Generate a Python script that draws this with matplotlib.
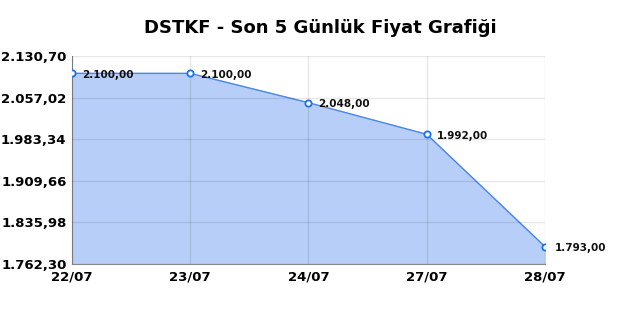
import numpy as np
import matplotlib.pyplot as plt

# veri
dates = ["22/07", "23/07", "24/07", "27/07", "28/07"]
prices = [2100.00, 2100.00, 2048.00, 1992.00, 1793.00]
y_ticks = [1762.30, 1835.98, 1909.66, 1983.34, 2057.02, 2130.70]


def tr_format(v):
    s = f"{v:,.2f}"
    return s.replace(",", "X").replace(".", ",").replace("X", ".")


fig = plt.figure(figsize=(6.4, 3.2), dpi=100)
ax = fig.add_axes([0.1125, 0.175, 0.739, 0.65])

x = np.arange(len(dates))
ax.fill_between(x, prices, y_ticks[0], color="#b7cff8", zorder=1)
ax.plot(x, prices, color="#4a86e8", linewidth=1, zorder=2)
ax.plot(x, prices, linestyle="none", marker="o", markersize=4.5,
        markerfacecolor="white", markeredgecolor="#1a73e8", markeredgewidth=1.3, zorder=3)

for xi, p in zip(x, prices):
    ax.annotate(tr_format(p), (xi, p), xytext=(7, -1), textcoords="offset points",
                fontsize=7.5, fontweight="bold", va="center", ha="left", color="#111111")

ax.set_xlim(0, len(dates) - 1)
ax.set_ylim(y_ticks[0], y_ticks[-1])
ax.set_xticks(x)
ax.set_xticklabels(dates, fontsize=9.5, fontweight="bold")
ax.set_yticks(y_ticks)
ax.set_yticklabels([tr_format(v) for v in y_ticks], fontsize=9.5, fontweight="bold")
ax.tick_params(length=0)
ax.tick_params(axis="y", pad=4)
ax.tick_params(axis="x", pad=5)

ax.grid(True, color="black", alpha=0.09, linewidth=1, zorder=1.5)
ax.set_axisbelow(False)
for s in ["top", "right"]:
    ax.spines[s].set_visible(False)
ax.spines["left"].set_color("#888888")
ax.spines["bottom"].set_color("#888888")

fig.suptitle("DSTKF - Son 5 Günlük Fiyat Grafiği", fontsize=13, fontweight="bold", y=0.94)

plt.savefig("out.png", dpi=100)
